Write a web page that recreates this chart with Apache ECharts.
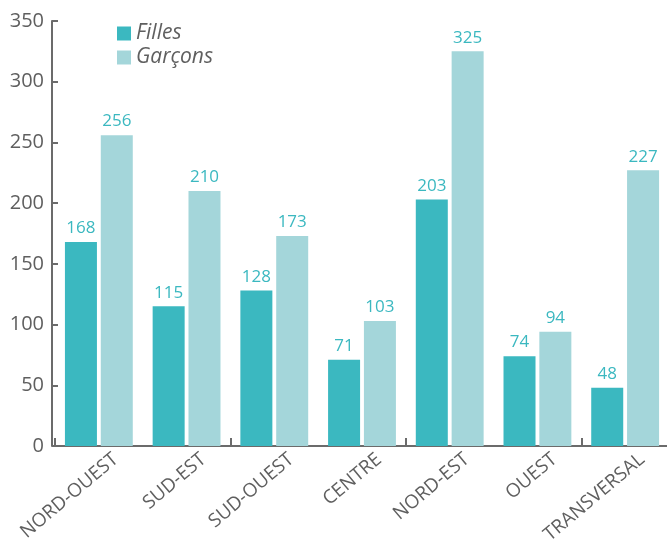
<!DOCTYPE html>
<html><head><meta charset="utf-8">
<script src="https://cdn.jsdelivr.net/npm/echarts@6/dist/echarts.min.js"></script>
<style>html,body{margin:0;padding:0;background:#fff}#c{width:667px;height:544px}</style>
</head><body><div id="c"></div>
<script>
const categories = ["NORD-OUEST","SUD-EST","SUD-OUEST","CENTRE","NORD-EST","OUEST","TRANSVERSAL"];
const filles = [168,115,128,71,203,74,48];
const garcons = [256,210,173,103,325,94,227];
const yTicks = [0,50,100,150,200,250,300,350];

const FONT = '"Open Sans", "Noto Sans", sans-serif';
const TXT = '#5f5f5f';
const AX = '#6b6b6b';
const chart = echarts.init(document.getElementById('c'), null, {renderer:'canvas'});
chart.setOption({
  animation:false,
  textStyle:{fontFamily:FONT},
  legend:{
    orient:'vertical', left:112, top:18, itemWidth:14, itemHeight:14, itemGap:3,
    icon:'rect',
    textStyle:{fontFamily:FONT, fontStyle:'italic', fontSize:21, color:TXT},
    data:['Filles','Garçons']
  },
  grid:[
    {left:55, width:614, top:21, bottom:98, containLabel:false, outerBoundsMode:'none'},
    {left:72, width:614, top:21, bottom:97, containLabel:false, outerBoundsMode:'none'}
  ],
  xAxis:[{
    type:'category', data:categories, gridIndex:0,
    axisLine:{lineStyle:{color:AX, width:2}},
    axisTick:{show:true, inside:true, length:8, alignWithLabel:false, lineStyle:{color:AX, width:2}},
    axisLabel:{show:false}
  },{
    type:'category', data:categories, gridIndex:1,
    axisLine:{show:false}, axisTick:{show:false},
    axisLabel:{rotate:40, fontSize:19, color:TXT, fontFamily:FONT, margin:10, interval:0}
  }],
  yAxis:[{
    type:'value', gridIndex:0, min:yTicks[0], max:yTicks[yTicks.length-1], interval:50, offset:3,
    axisLine:{show:true, lineStyle:{color:AX, width:2}},
    axisTick:{show:true, inside:true, length:6, lineStyle:{color:AX, width:2}},
    splitLine:{show:false},
    axisLabel:{fontSize:20, color:TXT, fontFamily:FONT, margin:8}
  },{
    type:'value', gridIndex:1, min:yTicks[0], max:yTicks[yTicks.length-1], show:false
  }],
  series:[
    {name:'Filles', type:'bar', data:filles, barWidth:32, barGap:'12%',
     itemStyle:{color:'#3bb8c0'},
     label:{show:true, position:'top', distance:5, color:'#3bb8c0', fontSize:17, fontFamily:FONT}},
    {name:'Garçons', type:'bar', data:garcons, barWidth:32, barGap:'12%',
     itemStyle:{color:'#a4d6da'},
     label:{show:true, position:'top', distance:5, color:'#3bb8c0', fontSize:17, fontFamily:FONT}}
  ]
});
</script></body></html>
